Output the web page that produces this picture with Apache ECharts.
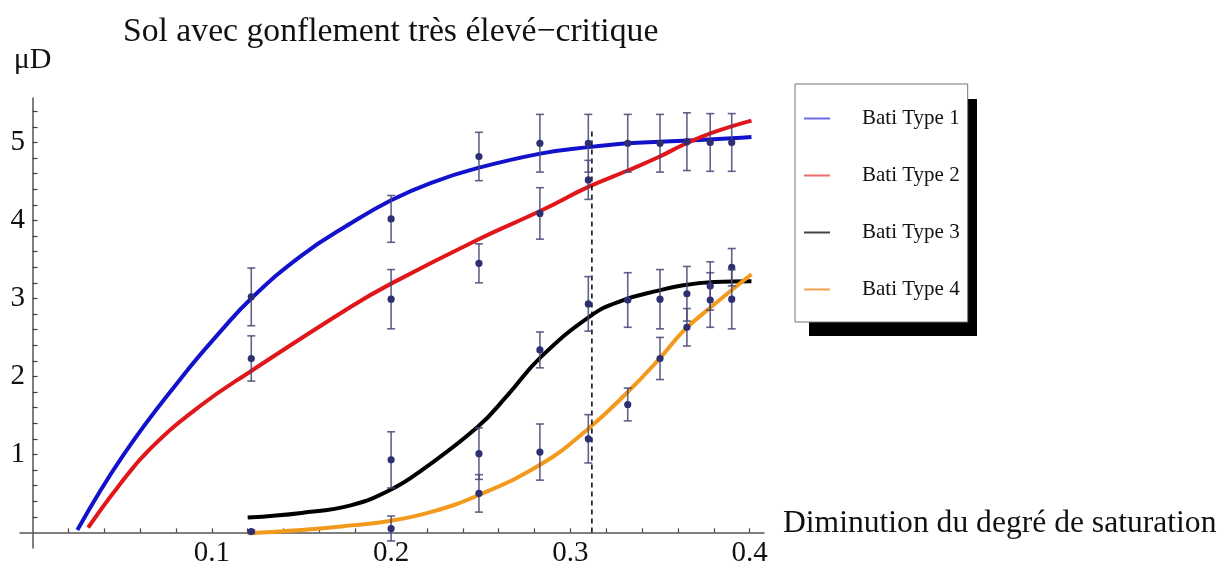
<!DOCTYPE html>
<html>
<head>
<meta charset="utf-8">
<script src="https://cdn.jsdelivr.net/npm/echarts@6/dist/echarts.min.js"></script>
<style>html,body{margin:0;padding:0;background:#fff;}#chart{width:1230px;height:569px;}</style>
</head>
<body>
<div id="chart"></div>
<script>
// ---- data ----
const seriesNames = ['Bati Type 1', 'Bati Type 2', 'Bati Type 3', 'Bati Type 4'];

// fitted curves (sampled along each drawn curve)
const curve1X = [0.025, 0.0509, 0.0836, 0.105, 0.122, 0.15, 0.178, 0.2, 0.222, 0.248, 0.284, 0.31, 0.332, 0.35, 0.38, 0.401];
const curve1Y = [0.03, 1.0, 2.0, 2.58, 3.0, 3.55, 3.97, 4.26, 4.48, 4.67, 4.86, 4.94, 4.99, 5.01, 5.04, 5.07];

const curve2X = [0.031, 0.0475, 0.066, 0.094, 0.122, 0.178, 0.2, 0.248, 0.284, 0.31, 0.332, 0.349, 0.363, 0.3785, 0.401];
const curve2Y = [0.06, 0.58, 1.08, 1.63, 2.07, 2.90, 3.19, 3.75, 4.13, 4.43, 4.64, 4.81, 4.97, 5.12, 5.28];

const curve3X = [0.12, 0.15, 0.178, 0.2, 0.2166, 0.2482, 0.265, 0.2836, 0.3115, 0.3284, 0.349, 0.363, 0.38, 0.401];
const curve3Y = [0.19, 0.25, 0.35, 0.55, 0.79, 1.35, 1.76, 2.25, 2.78, 2.97, 3.1, 3.17, 3.21, 3.22];

const curve4X = [0.12, 0.15, 0.178, 0.2, 0.222, 0.248, 0.284, 0.31, 0.332, 0.349, 0.3634, 0.3785, 0.401];
const curve4Y = [-0.01, 0.03, 0.09, 0.15, 0.26, 0.47, 0.88, 1.33, 1.80, 2.21, 2.59, 2.89, 3.31];

// measured points with error bars
const pts1X = [0.122, 0.2, 0.249, 0.283, 0.31, 0.332, 0.35, 0.365, 0.378, 0.39];
const pts1Y = [3.02, 4.02, 4.82, 4.99, 4.99, 4.99, 4.99, 5.01, 5.0, 5.0];
const pts1Err = [0.37, 0.30, 0.31, 0.37, 0.37, 0.37, 0.37, 0.37, 0.37, 0.37];

const pts2X = [0.122, 0.2, 0.249, 0.283, 0.31];
const pts2Y = [2.23, 2.99, 3.45, 4.09, 4.52];
const pts2Err = [0.29, 0.38, 0.25, 0.33, 0.25];

const pts3X = [0.2, 0.249, 0.283, 0.31, 0.332, 0.35, 0.365, 0.378, 0.39];
const pts3Y = [0.93, 1.01, 2.34, 2.93, 2.98, 2.99, 3.06, 3.16, 3.40];
const pts3Err = [0.36, 0.33, 0.23, 0.35, 0.35, 0.38, 0.35, 0.31, 0.24];

const pts4X = [0.122, 0.2, 0.249, 0.283, 0.31, 0.332, 0.35, 0.365, 0.378, 0.39];
const pts4Y = [0.01, 0.05, 0.50, 1.03, 1.20, 1.64, 2.23, 2.63, 2.98, 2.99];
const pts4Err = [0.02, 0.16, 0.24, 0.36, 0.31, 0.21, 0.27, 0.24, 0.35, 0.38];

// dashed vertical reference line
const markerX = 0.312;
const markerTop = 5.14;

// axes ticks
const xTickLabels = [0.1, 0.2, 0.3, 0.4];
const yTickLabels = [1, 2, 3, 4, 5];
const xMinorStep = 0.02;
const yMinorStep = 0.2;

// ---- build ----
const curveColors = ['#1212cc', '#e0161a', '#000000', '#f3991c'];
const legendColors = ['#6b6bf0', '#f06a6a', '#444444', '#f6a04a'];
const barColor = 'rgba(70,70,120,0.85)';
const dotColor = '#2e2e72';
const serif = 'Liberation Serif';

function pairs(xs, ys) { return xs.map((x, i) => [x, ys[i]]); }
function triples(xs, ys, es) { return xs.map((x, i) => [x, ys[i], es[i]]); }

const xTicks = [];
for (let i = 1; i * xMinorStep <= 0.4081; i++) xTicks.push(+(i * xMinorStep).toFixed(3));
const yTicks = [];
for (let i = 1; i * yMinorStep <= 5.5; i++) yTicks.push(+(i * yMinorStep).toFixed(3));

const curves = [pairs(curve1X, curve1Y), pairs(curve2X, curve2Y), pairs(curve3X, curve3Y), pairs(curve4X, curve4Y)];
const points = [triples(pts1X, pts1Y, pts1Err), triples(pts2X, pts2Y, pts2Err), triples(pts3X, pts3Y, pts3Err), triples(pts4X, pts4Y, pts4Err)];

function renderErr(params, api) {
  const x = api.value(0), y = api.value(1), e = api.value(2);
  const top = api.coord([x, y + e]);
  const bot = api.coord([x, y - e]);
  const c = api.coord([x, y]);
  const hw = 4;
  const ls = { stroke: barColor, lineWidth: 1.6 };
  return {
    type: 'group',
    children: [
      { type: 'line', shape: { x1: top[0], y1: top[1], x2: bot[0], y2: bot[1] }, style: ls },
      { type: 'line', shape: { x1: top[0] - hw, y1: top[1], x2: top[0] + hw, y2: top[1] }, style: ls },
      { type: 'line', shape: { x1: bot[0] - hw, y1: bot[1], x2: bot[0] + hw, y2: bot[1] }, style: ls },
      { type: 'circle', shape: { cx: c[0], cy: c[1], r: 3.6 }, style: { fill: dotColor } }
    ]
  };
}

const series = [];
curves.forEach((d, i) => {
  series.push({
    name: seriesNames[i], type: 'line', data: d, smooth: 0.45,
    showSymbol: false, symbol: 'none', z: 3,
    lineStyle: { color: curveColors[i], width: 4 },
    itemStyle: { color: curveColors[i] }
  });
});
points.forEach((d, i) => {
  series.push({
    name: seriesNames[i] + ' (points)', type: 'custom', renderItem: renderErr,
    data: d, encode: { x: 0, y: 1 }, z: 5
  });
});
series.push({
  name: 'seuil', type: 'line', data: [[markerX, 0], [markerX, markerTop]],
  symbol: 'none', z: 4,
  lineStyle: { color: '#000', width: 1.5, type: [5, 4] }
});

const chart = echarts.init(document.getElementById('chart'));
chart.setOption({
  animation: false,
  backgroundColor: '#fff',
  title: {
    text: 'Sol avec gonflement très élevé\u2212critique',
    left: 118, top: 10,
    textStyle: { fontFamily: serif, fontSize: 33.7, fontWeight: 'normal', color: '#111' }
  },
  graphic: [{
    type: 'rect', z: 1, silent: true,
    shape: { x: 809, y: 99, width: 168, height: 237 },
    style: { fill: '#000' }
  }],
  legend: {
    data: seriesNames.map((n, i) => ({ name: n, itemStyle: { color: legendColors[i] } })),
    orient: 'vertical', left: 795, top: 84, z: 10,
    icon: 'rect', itemWidth: 26, itemHeight: 2, itemGap: 36,
    padding: [24, 8, 22, 9],
    backgroundColor: '#fff', borderColor: '#777', borderWidth: 1,
    textStyle: { fontFamily: serif, fontSize: 21, color: '#111', lineHeight: 20, padding: [0, 0, 0, 27] }
  },
  grid: { left: 20, right: 466, top: 98, bottom: 21, outerBoundsMode: 'none', containLabel: false },
  xAxis: {
    type: 'value', min: -0.007, max: 0.408,
    name: 'Diminution du degré de saturation', nameLocation: 'end', nameGap: 19,
    nameTextStyle: { fontFamily: serif, fontSize: 31.6, color: '#111', verticalAlign: 'bottom', lineHeight: 17, padding: [0, 0, 0, 0] },
    axisLine: { onZero: true, lineStyle: { color: '#555', width: 1.5 } },
    axisTick: { show: true, inside: true, length: 4, customValues: xTicks, lineStyle: { color: '#444', width: 1.2 } },
    axisLabel: {
      customValues: xTickLabels, margin: -9,
      fontFamily: serif, fontSize: 29, color: '#111',
      formatter: v => String(v)
    },
    splitLine: { show: false }
  },
  yAxis: {
    type: 'value', min: -0.2, max: 5.57,
    name: 'μD', nameLocation: 'end', nameGap: 23,
    nameTextStyle: { fontFamily: serif, fontSize: 30, color: '#111', align: 'center' },
    axisLine: { onZero: true, lineStyle: { color: '#555', width: 1.5 } },
    axisTick: { show: true, inside: true, length: 5, customValues: yTicks, lineStyle: { color: '#444', width: 1.2 } },
    axisLabel: {
      customValues: yTickLabels, margin: -5,
      fontFamily: serif, fontSize: 29, color: '#111',
      formatter: v => String(v)
    },
    splitLine: { show: false }
  },
  series: series
});
</script>
</body>
</html>
